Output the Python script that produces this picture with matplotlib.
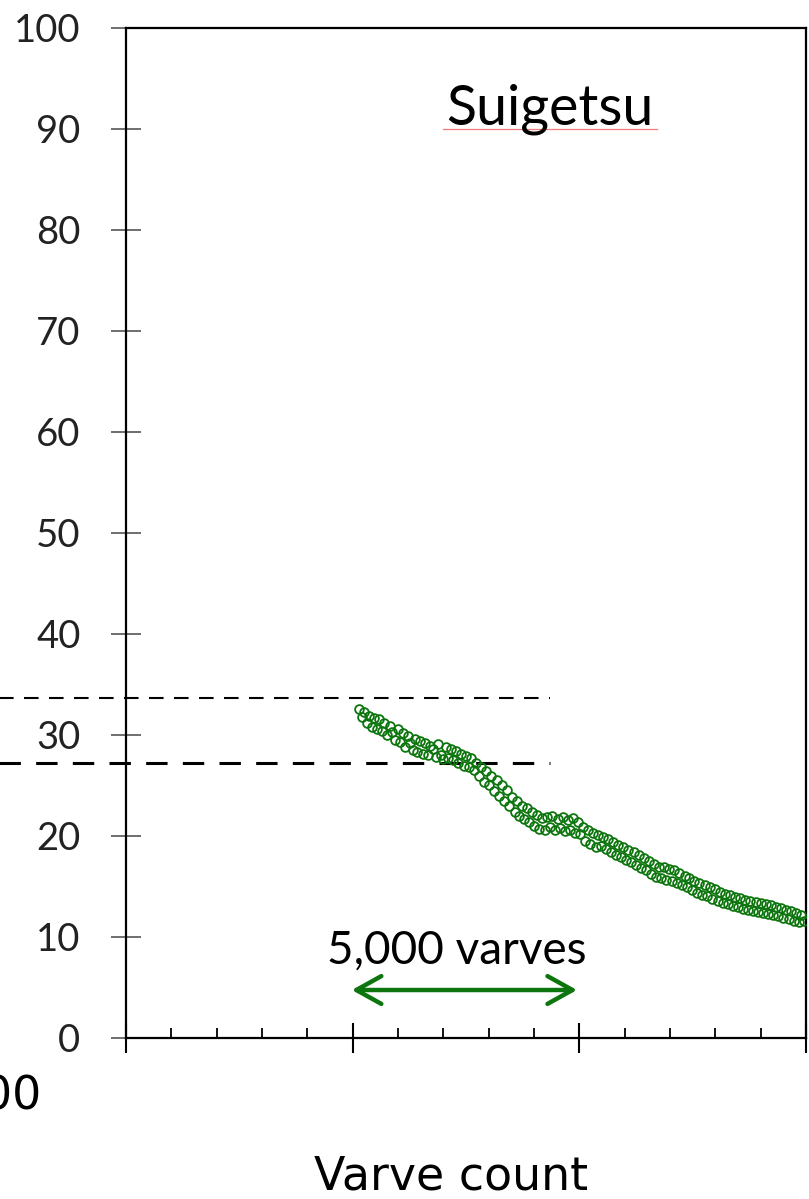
import numpy as np
import matplotlib
matplotlib.use("Agg")
import matplotlib.pyplot as plt

# Suigetsu varve panel
varve = [5150, 5200, 5260, 5310, 5370, 5420, 5480, 5530, 5590, 5650,
         5700, 5760, 5820, 5870, 5930, 5990, 6040, 6100, 6150, 6210,
         6270, 6320, 6380, 6430, 6490, 6550, 6600, 6660, 6710, 6770,
         6830, 6880, 6940, 7000, 7050, 7110, 7170, 7220, 7280, 7330,
         7390, 7450, 7500, 7560, 7620, 7670, 7730, 7780, 7840, 7900,
         7950, 8010, 8060, 8120, 8180, 8230, 8290, 8340, 8400, 8450,
         8510, 8570, 8620, 8680, 8730, 8790, 8850, 8900, 8960, 9010,
         9070, 9120, 9180, 9240, 9290, 9350, 9400, 9460, 9520, 9570,
         9630, 9680, 9740, 9800, 9850, 9910, 9960, 10020, 10080, 10130,
         10190, 10240, 10300, 10360, 10410, 10470, 10520, 10580, 10640, 10690,
         10750, 10800, 10860, 10920, 10970, 11030, 11080, 11140, 11200, 11250,
         11310, 11360, 11420, 11480, 11530, 11590, 11640, 11700, 11760, 11810,
         11870, 11920, 11980, 12040, 12090, 12150, 12200, 12260, 12320, 12370,
         12430, 12480, 12540, 12600, 12650, 12710, 12770, 12820, 12880, 12930,
         12990, 13050, 13100, 13160, 13210, 13270, 13330, 13380, 13440, 13490,
         13550, 13610, 13660, 13720, 13770, 13830, 13890, 13940, 14000, 14050,
         14110, 14170, 14220, 14280, 14330, 14390, 14450, 14500, 14560, 14620,
         14670, 14730, 14780, 14840, 14900, 14950]
age = [32.6, 31.8, 32.3, 31.2, 31.9, 30.8, 31.7, 30.6, 31.6, 30.4,
       31.2, 30.0, 30.9, 30.3, 29.5, 30.6, 29.3, 30.2, 28.8, 29.9,
       29.2, 28.5, 29.6, 28.3, 29.4, 28.1, 29.2, 28.0, 28.9, 28.6,
       27.8, 29.1, 28.0, 27.6, 28.8, 27.7, 28.6, 27.5, 28.4, 27.2,
       28.1, 26.9, 27.9, 26.8, 27.7, 26.5, 27.2, 25.9, 26.8, 25.3,
       26.4, 25.0, 25.9, 24.4, 25.5, 24.0, 25.0, 23.5, 24.5, 23.0,
       23.9, 22.4, 23.5, 22.0, 23.0, 21.7, 22.8, 21.4, 22.4, 21.0,
       22.1, 20.7, 21.8, 20.6, 21.9, 20.9, 22.0, 20.6, 21.7, 20.8,
       21.9, 20.5, 21.6, 20.6, 21.8, 20.3, 21.4, 20.2, 20.9, 19.5,
       20.6, 19.2, 20.3, 18.9, 20.1, 19.0, 19.9, 18.7, 19.7, 18.4,
       19.4, 18.1, 19.1, 17.9, 18.9, 17.6, 18.6, 17.4, 18.4, 17.1,
       18.1, 16.8, 17.8, 16.6, 17.5, 16.2, 17.2, 15.9, 16.9, 15.8,
       16.9, 15.6, 16.7, 15.5, 16.6, 15.3, 16.3, 15.1, 16.0, 14.9,
       15.8, 14.6, 15.5, 14.4, 15.3, 14.2, 15.1, 14.1, 14.9, 13.8,
       14.7, 13.6, 14.5, 13.4, 14.3, 13.3, 14.2, 13.1, 14.0, 13.0,
       13.9, 12.8, 13.7, 12.7, 13.6, 12.6, 13.5, 12.5, 13.4, 12.4,
       13.3, 12.3, 13.2, 12.2, 13.0, 12.1, 12.9, 11.9, 12.7, 11.8,
       12.6, 11.6, 12.4, 11.5, 12.2, 11.6]

yticks = [0, 10, 20, 30, 40, 50, 60, 70, 80, 90, 100]
xmajor = [0, 5000, 10000, 15000]
dash_levels = [33.65, 27.2]
dash_widths = [1.5, 2.2]
dash_span = (-2800, 9360)
arrow_span = (4980, 9950)

green = '#0d750d'

fig = plt.figure(figsize=(8.09, 11.99), dpi=100)
ax = fig.add_axes([126/809, 161/1199, 680/809, 1010.3/1199])

ax.plot(varve, age, 'o', mfc='none', mec=green, ms=6.3, mew=1.3, zorder=3)

for lev, lw in zip(dash_levels, dash_widths):
    ax.plot(dash_span, [lev, lev], color='black', lw=lw,
            linestyle=(0, (7, 5)), clip_on=False, zorder=2)

ax.annotate('', xy=(arrow_span[0], 4.75), xytext=(arrow_span[1], 4.75),
            arrowprops=dict(arrowstyle='<->,head_length=0.9,head_width=0.5',
                            color=green, lw=3.2, mutation_scale=20,
                            shrinkA=0, shrinkB=0))
ax.text(7300, 7.4, '5,000 varves', ha='center', va='baseline',
        fontsize=33, family='Lato')

ax.text(9350, 90.4, 'Suigetsu', ha='center', va='baseline',
        fontsize=40, family='Lato')
ax.plot([6990, 11710], [89.95, 89.95], color='#f27a7a', lw=0.9)

ax.set_xlim(0, 15000)
ax.set_ylim(0, 100)
ax.set_yticks(yticks)
ax.set_yticklabels([str(v) for v in yticks], family='Lato', fontsize=27.5,
                   color='#222222')
ax.set_xticks(xmajor)
ax.set_xticks([1000, 2000, 3000, 4000, 6000, 7000, 8000, 9000,
               11000, 12000, 13000, 14000], minor=True)
ax.set_xticklabels([])
ax.tick_params(axis='y', direction='inout', length=21.6, width=1.2,
               color='#555555', pad=22)
ax.tick_params(axis='x', which='major', direction='inout', length=22,
               width=1.5, color='black')
ax.tick_params(axis='x', which='minor', direction='in', length=7,
               width=1.3, color='black')
for s in ax.spines.values():
    s.set_linewidth(1.6)

fig.text(451/809, 1-1190/1199, 'Varve count', ha='center', va='baseline',
         fontsize=33, family='DejaVu Sans')
fig.text(41/809, 1-1110/1199, '00', ha='right', va='baseline',
         fontsize=33, family='DejaVu Sans')

fig.savefig('out.png', dpi=100)
